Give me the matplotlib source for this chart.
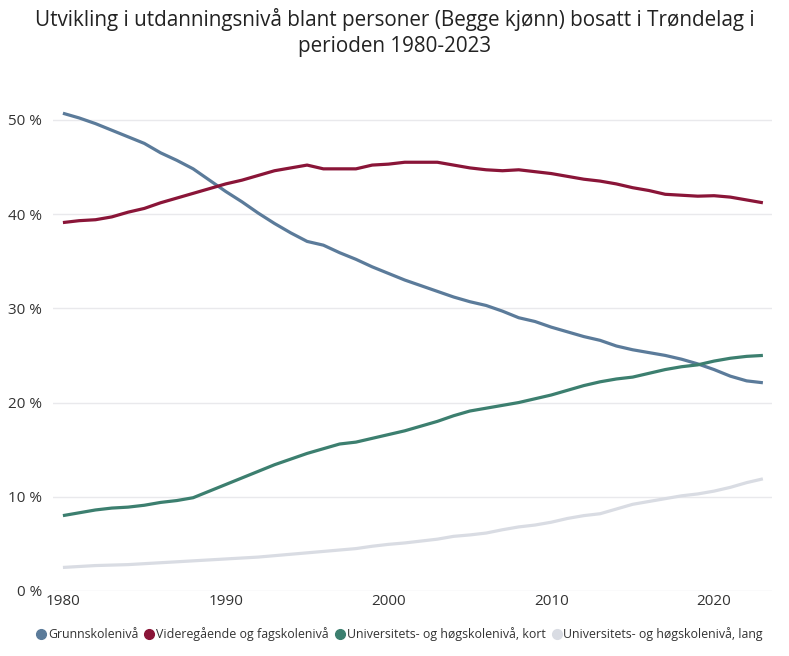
import matplotlib
matplotlib.use("Agg")
import matplotlib.pyplot as plt
from matplotlib.lines import Line2D

plt.rcParams["font.family"] = ["Open Sans", "DejaVu Sans"]

years = list(range(1980, 2024))

grunnskole = [50.7, 50.2, 49.6, 48.9, 48.2, 47.5, 46.5, 45.7, 44.8, 43.6,
              42.4, 41.3, 40.1, 39.0, 38.0, 37.1, 36.7, 35.9, 35.2, 34.4,
              33.7, 33.0, 32.4, 31.8, 31.2, 30.7, 30.3, 29.7, 29.0, 28.6,
              28.0, 27.5, 27.0, 26.6, 26.0, 25.6, 25.3, 25.0, 24.6, 24.1,
              23.5, 22.8, 22.3, 22.1]
videregaende = [39.1, 39.3, 39.4, 39.7, 40.2, 40.6, 41.2, 41.7, 42.2, 42.7,
                43.2, 43.6, 44.1, 44.6, 44.9, 45.2, 44.8, 44.8, 44.8, 45.2,
                45.3, 45.5, 45.5, 45.5, 45.2, 44.9, 44.7, 44.6, 44.7, 44.5,
                44.3, 44.0, 43.7, 43.5, 43.2, 42.8, 42.5, 42.1, 42.0, 41.9,
                41.95, 41.8, 41.5, 41.2]
uni_kort = [8.0, 8.3, 8.6, 8.8, 8.9, 9.1, 9.4, 9.6, 9.9, 10.6,
            11.3, 12.0, 12.7, 13.4, 14.0, 14.6, 15.1, 15.6, 15.8, 16.2,
            16.6, 17.0, 17.5, 18.0, 18.6, 19.1, 19.4, 19.7, 20.0, 20.4,
            20.8, 21.3, 21.8, 22.2, 22.5, 22.7, 23.1, 23.5, 23.8, 24.0,
            24.4, 24.7, 24.9, 25.0]
uni_lang = [2.5, 2.6, 2.7, 2.75, 2.8, 2.9, 3.0, 3.1, 3.2, 3.3,
            3.4, 3.5, 3.6, 3.75, 3.9, 4.05, 4.2, 4.35, 4.5, 4.75,
            4.95, 5.1, 5.3, 5.5, 5.8, 5.95, 6.15, 6.5, 6.8, 7.0,
            7.3, 7.7, 8.0, 8.2, 8.7, 9.2, 9.5, 9.8, 10.1, 10.3,
            10.6, 11.0, 11.5, 11.9]

labels = ["Grunnskolenivå", "Videregående og fagskolenivå",
          "Universitets- og høgskolenivå, kort", "Universitets- og høgskolenivå, lang"]
colors = ["#5B7B9A", "#8A1538", "#3C7F6F", "#D9DCE3"]

yticks = [0, 10, 20, 30, 40, 50]
xticks = [1980, 1990, 2000, 2010, 2020]

fig = plt.figure(figsize=(7.89, 6.56), dpi=100)
ax = fig.add_axes([53 / 789, 1 - 591 / 656, (772 - 53) / 789, (591 - 101) / 656])

for series, color in zip([grunnskole, videregaende, uni_kort, uni_lang], colors):
    ax.plot(years, series, color=color, linewidth=2.3, solid_capstyle="butt")

ax.set_xlim(1979.39, 2023.56)
ax.set_ylim(0, 52)
ax.set_yticks(yticks)
ax.set_yticklabels([f"{v} %" for v in yticks])
ax.set_xticks(xticks)
ax.grid(axis="y", color="#E9E9EC", linewidth=1)
ax.set_axisbelow(True)
for s in ax.spines.values():
    s.set_visible(False)
ax.tick_params(axis="both", length=0, colors="#333333", labelsize=11)
ax.tick_params(axis="y", pad=8)
ax.tick_params(axis="x", pad=2)

fig.suptitle("Utvikling i utdanningsnivå blant personer (Begge kjønn) bosatt i Trøndelag i\nperioden 1980-2023",
             x=0.5, y=0.988, fontsize=14.9, color="#222222", linespacing=1.35)

handles = [Line2D([], [], marker="o", linestyle="none", color=c, markersize=7) for c in colors]
fig.legend(handles, labels, loc="lower left", bbox_to_anchor=(0.041, 0.015), ncol=4,
           frameon=False, fontsize=8.9, handlelength=0.6, handletextpad=0.25,
           columnspacing=0.6, labelcolor="#333333", borderaxespad=0)

fig.savefig("out.png", dpi=100)
